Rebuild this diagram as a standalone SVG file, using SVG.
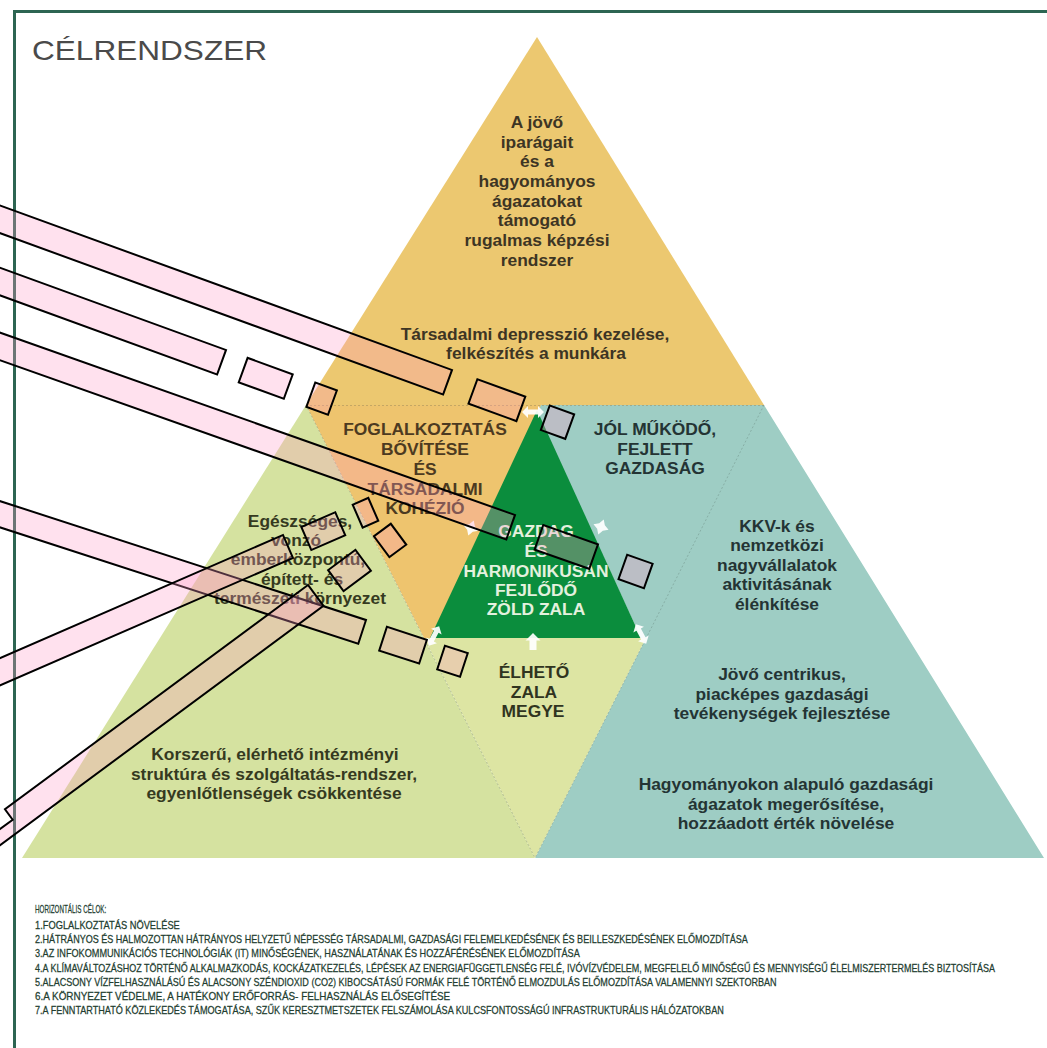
<svg xmlns="http://www.w3.org/2000/svg" width="1047" height="1048" viewBox="0 0 1047 1048">
<style>
.lbl{font-family:"Liberation Sans",Arial,Helvetica,sans-serif;font-weight:bold;font-size:17.4px;text-anchor:middle}
.t-top{fill:#3d3524}
.t-or{fill:#4c3a21}
.t-teal{fill:#243434}
.t-grn{fill:#e4f1de}
.t-lg{fill:#353a1f}
.t-bg{fill:#30341f}
.small{font-family:"Liberation Sans",Arial,Helvetica,sans-serif;font-size:11px;fill:#223d2f;stroke:#223d2f;stroke-width:0.25}
.band{fill:#ff9bc8;fill-opacity:0.3;stroke:#000;stroke-width:2;stroke-linejoin:miter}
.arw{fill:#ffffff;fill-opacity:0.93}
</style>
<defs>
<polygon id="dbl" points="-11,0 -5,-6 -5,-2.5 5,-2.5 5,-6 11,0 5,6 5,2.5 -5,2.5 -5,6"/>
<polygon id="up" points="0,-9 7.5,-1.5 3.5,-1.5 3.5,8 -3.5,8 -3.5,-1.5 -7.5,-1.5"/>
<path id="st" d="M0,-8 L3,-3 8,0 3,3 0,8 -3,3 -8,0 -3,-3Z"/>
</defs>
<rect width="1047" height="1048" fill="#ffffff"/>
<path d="M14.5,1048 V11.5 H1047" fill="none" stroke="#2d6552" stroke-width="3"/>
<text x="32" y="60" font-family="'Liberation Sans',Arial,sans-serif" font-size="28" fill="#4a4a4a" textLength="235" lengthAdjust="spacingAndGlyphs">CÉLRENDSZER</text>

<g id="pyramid-top">
<polygon points="537,37 306,405 764,405" fill="#ecc870"/>
<text class="lbl t-top" x="537" y="128">A jövő</text>
<text class="lbl t-top" x="537" y="147.5">iparágait</text>
<text class="lbl t-top" x="537" y="167">és a</text>
<text class="lbl t-top" x="537" y="187">hagyományos</text>
<text class="lbl t-top" x="537" y="206.5">ágazatokat</text>
<text class="lbl t-top" x="537" y="226">támogató</text>
<text class="lbl t-top" x="537" y="246">rugalmas képzési</text>
<text class="lbl t-top" x="537" y="266">rendszer</text>
<text class="lbl t-top" x="535" y="340">Társadalmi depresszió kezelése,</text>
<text class="lbl t-top" x="536" y="359">felkészítés a munkára</text>
</g>

<g id="pyramid-left">
<polygon points="306,405 22,858 535,858" fill="#d5e2a0"/>
<text class="lbl t-lg" x="300" y="527">Egészséges,</text>
<text class="lbl t-lg" x="296" y="546">vonzó</text>
<text class="lbl t-lg" x="298" y="565">emberközpontú,</text>
<text class="lbl t-lg" x="302" y="585">épített- és</text>
<text class="lbl t-lg" x="300" y="604">természeti környezet</text>
<text class="lbl t-lg" x="275" y="760">Korszerű, elérhető intézményi</text>
<text class="lbl t-lg" x="274" y="780">struktúra és szolgáltatás-rendszer,</text>
<text class="lbl t-lg" x="274" y="799">egyenlőtlenségek csökkentése</text>
</g>

<g id="pyramid-right">
<polygon points="533,405 764,405 1044,858 535,858 646,638 641,638" fill="#9ecdc4"/>
<text class="lbl t-teal" x="655" y="435">JÓL MŰKÖDŐ,</text>
<text class="lbl t-teal" x="655" y="455">FEJLETT</text>
<text class="lbl t-teal" x="655" y="474">GAZDASÁG</text>
<text class="lbl t-teal" x="777" y="532">KKV-k és</text>
<text class="lbl t-teal" x="777" y="551">nemzetközi</text>
<text class="lbl t-teal" x="777" y="571">nagyvállalatok</text>
<text class="lbl t-teal" x="777" y="590">aktivitásának</text>
<text class="lbl t-teal" x="777" y="610">élénkítése</text>
<text class="lbl t-teal" x="782" y="680">Jövő centrikus,</text>
<text class="lbl t-teal" x="782" y="700">piacképes gazdasági</text>
<text class="lbl t-teal" x="782" y="719">tevékenységek fejlesztése</text>
<text class="lbl t-teal" x="786" y="790">Hagyományokon alapuló gazdasági</text>
<text class="lbl t-teal" x="786" y="810">ágazatok megerősítése,</text>
<text class="lbl t-teal" x="786" y="829">hozzáadott érték növelése</text>
</g>

<g id="pyramid-bottom-mid">
<polygon points="424,638 646,638 535,858" fill="#dde5a3"/>
<text class="lbl t-bg" x="534" y="678">ÉLHETŐ</text>
<text class="lbl t-bg" x="534" y="698">ZALA</text>
<text class="lbl t-bg" x="533" y="717">MEGYE</text>
</g>

<g id="pyramid-mid-left">
<polygon points="306,405 541,405 431,638 424,638" fill="#eec46e"/>
<text class="lbl t-or" x="425" y="435">FOGLALKOZTATÁS</text>
<text class="lbl t-or" x="425" y="455">BŐVÍTÉSE</text>
<text class="lbl t-or" x="425" y="475">ÉS</text>
<text class="lbl t-or" x="425" y="495">TÁRSADALMI</text>
<text class="lbl t-or" x="425" y="514">KOHÉZIÓ</text>
</g>

<g id="lines">
<line x1="306" y1="405.5" x2="764" y2="405.5" stroke="#9a8a5a" stroke-opacity="0.5" stroke-width="1" stroke-dasharray="2,2"/>
<line x1="306" y1="405" x2="535" y2="858" stroke="#7a8a6a" stroke-opacity="0.45" stroke-width="1" stroke-dasharray="2,2"/>
<line x1="764" y1="405" x2="535" y2="858" stroke="#6a8a80" stroke-opacity="0.45" stroke-width="1" stroke-dasharray="2,2"/>
</g>

<g id="center">
<polygon points="537,410 430,638 641,638" fill="#0b8d3d"/>
<text class="lbl t-grn" x="536" y="537">GAZDAG</text>
<text class="lbl t-grn" x="536" y="557">ÉS</text>
<text class="lbl t-grn" x="536" y="577">HARMONIKUSAN</text>
<text class="lbl t-grn" x="536" y="596">FEJLŐDŐ</text>
<text class="lbl t-grn" x="536" y="615">ZÖLD ZALA</text>
<use href="#dbl" class="arw" transform="translate(533,412)"/>
<use href="#st" class="arw" transform="translate(471,528) rotate(20)"/>
<use href="#st" class="arw" transform="translate(601,527) rotate(20)"/>
<use href="#dbl" class="arw" transform="translate(434,636) rotate(-62)"/>
<use href="#dbl" class="arw" transform="translate(641,634) rotate(62)"/>
<use href="#up" class="arw" transform="translate(533,642)"/>
</g>

<g id="legend">
<g transform="translate(35,0) scale(0.8,1)">
<text class="small" x="0" y="913" textLength="89" lengthAdjust="spacingAndGlyphs">HORIZONTÁLIS CÉLOK:</text>
<text class="small" x="0" y="929" textLength="181" lengthAdjust="spacingAndGlyphs">1.FOGLALKOZTATÁS NÖVELÉSE</text>
<text class="small" x="0" y="943" textLength="891" lengthAdjust="spacingAndGlyphs">2.HÁTRÁNYOS ÉS HALMOZOTTAN HÁTRÁNYOS HELYZETŰ NÉPESSÉG TÁRSADALMI, GAZDASÁGI FELEMELKEDÉSÉNEK ÉS BEILLESZKEDÉSÉNEK ELŐMOZDÍTÁSA</text>
<text class="small" x="0" y="957" textLength="681" lengthAdjust="spacingAndGlyphs">3.AZ INFOKOMMUNIKÁCIÓS TECHNOLÓGIÁK (IT) MINŐSÉGÉNEK, HASZNÁLATÁNAK ÉS HOZZÁFÉRÉSÉNEK ELŐMOZDÍTÁSA</text>
<text class="small" x="0" y="972" textLength="1200" lengthAdjust="spacingAndGlyphs">4.A KLÍMAVÁLTOZÁSHOZ TÖRTÉNŐ ALKALMAZKODÁS, KOCKÁZATKEZELÉS, LÉPÉSEK AZ ENERGIAFÜGGETLENSÉG FELÉ, IVÓVÍZVÉDELEM, MEGFELELŐ MINŐSÉGŰ ÉS MENNYISÉGŰ ÉLELMISZERTERMELÉS BIZTOSÍTÁSA</text>
<text class="small" x="0" y="986" textLength="927" lengthAdjust="spacingAndGlyphs">5.ALACSONY VÍZFELHASZNÁLÁSÚ ÉS ALACSONY SZÉNDIOXID (CO2) KIBOCSÁTÁSÚ FORMÁK FELÉ TÖRTÉNŐ ELMOZDULÁS ELŐMOZDÍTÁSA VALAMENNYI SZEKTORBAN</text>
<text class="small" x="0" y="1000" textLength="519" lengthAdjust="spacingAndGlyphs">6.A KÖRNYEZET VÉDELME, A HATÉKONY ERŐFORRÁS- FELHASZNÁLÁS ELŐSEGÍTÉSE</text>
<text class="small" x="0" y="1014" textLength="861" lengthAdjust="spacingAndGlyphs">7.A FENNTARTHATÓ KÖZLEKEDÉS TÁMOGATÁSA, SZŰK KERESZTMETSZETEK FELSZÁMOLÁSA KULCSFONTOSSÁGÚ INFRASTRUKTURÁLIS HÁLÓZATOKBAN</text>
</g>
</g>

<g id="connectors">
<g transform="translate(452,370) rotate(20)">
<rect class="band" x="-600" y="0" width="600" height="26"/>
<rect class="band" x="27" y="0" width="51" height="26"/>
<rect class="band" x="104" y="0" width="26" height="26"/>
</g>
<g transform="translate(226,350) rotate(20)">
<rect class="band" x="-400" y="0" width="400" height="26"/>
<rect class="band" x="23" y="0" width="48" height="26"/>
<rect class="band" x="95" y="0" width="23" height="26"/>
</g>
<g transform="translate(515,515) rotate(19.5)">
<rect class="band" x="-700" y="0" width="700" height="26"/>
<rect class="band" x="30" y="0" width="58" height="26"/>
<rect class="band" x="119" y="0" width="27" height="26"/>
</g>
<g transform="translate(366,620) rotate(18)">
<rect class="band" x="-500" y="0" width="500" height="25"/>
<rect class="band" x="22" y="0" width="42" height="25"/>
<rect class="band" x="83" y="0" width="24" height="25"/>
</g>
<g transform="translate(283,535) rotate(-23.5)">
<rect class="band" x="-420" y="0" width="420" height="25"/>
<rect class="band" x="20" y="0" width="37" height="25"/>
<rect class="band" x="76" y="0" width="17" height="25"/>
</g>
<g transform="translate(308,585) rotate(-36.5)">
<path class="band" d="M0,0 H-377 V13 H-440 V26 H0 Z"/>
<rect class="band" x="25" y="0" width="34" height="26"/>
<rect class="band" x="82" y="0" width="21" height="26"/>
</g>
</g>
</svg>
